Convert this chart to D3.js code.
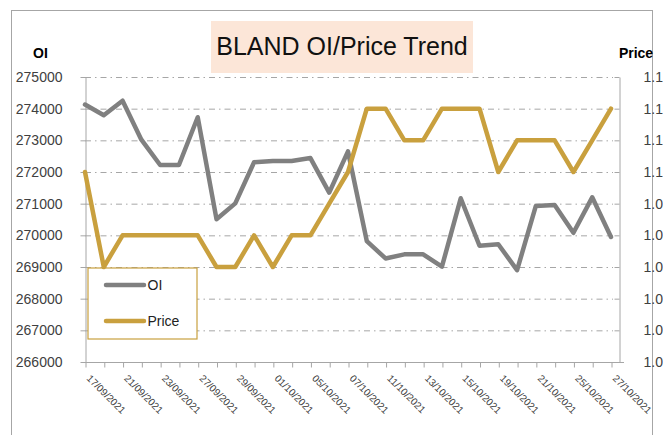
<!DOCTYPE html>
<html>
<head>
<meta charset="utf-8">
<script src="https://cdn.jsdelivr.net/npm/d3@7"></script>
<style>
  html, body { margin: 0; padding: 0; background: #fff; }
  svg { display: block; font-family: "Liberation Sans", Arial, sans-serif; }
</style>
</head>
<body>
<svg id="chart" width="663" height="435"></svg>
<script>
// trading days shown on the category axis
const dates = [
  '17/09/2021','20/09/2021','21/09/2021','22/09/2021','23/09/2021','24/09/2021',
  '27/09/2021','28/09/2021','29/09/2021','30/09/2021','01/10/2021','04/10/2021',
  '05/10/2021','06/10/2021','07/10/2021','08/10/2021','11/10/2021','12/10/2021',
  '13/10/2021','14/10/2021','15/10/2021','18/10/2021','19/10/2021','20/10/2021',
  '21/10/2021','22/10/2021','25/10/2021','26/10/2021','27/10/2021'
];
const oi = [
  274130, 273790, 274250, 273020, 272220, 272220, 273730, 270510, 271010, 272310,
  272350, 272350, 272440, 271350, 272650, 269820, 269270, 269400, 269400, 269010,
  271170, 269670, 269720, 268900, 270930, 270960, 270080, 271200, 269950
];
const price = [
  1.05, 1.02, 1.03, 1.03, 1.03, 1.03, 1.03, 1.02, 1.02, 1.03,
  1.02, 1.03, 1.03, 1.04, 1.05, 1.07, 1.07, 1.06, 1.06, 1.07,
  1.07, 1.07, 1.05, 1.06, 1.06, 1.06, 1.05, 1.06, 1.07
];
const oiTicks = [266000, 267000, 268000, 269000, 270000, 271000, 272000, 273000, 274000, 275000];
const priceTicks = [0.99, 1.00, 1.01, 1.02, 1.03, 1.04, 1.05, 1.06, 1.07, 1.08];
const priceTickLabels = ['1.0','1.0','1.0','1.0','1.0','1.0','1.1','1.1','1.1','1.1'];
const seriesNames = ['OI', 'Price'];

const svg = d3.select('#chart');
const gray = '#808080', gold = '#c9a03e', axisCol = '#a6a6a6', txt = '#404040';

const plotL = 85, plotR = 619, plotT = 77, plotB = 362;

const x = d3.scalePoint().domain(dates).range([plotL, 611]);
const yOI = d3.scaleLinear().domain([oiTicks[0], oiTicks[oiTicks.length-1]]).range([plotB, plotT]);
const yPrice = d3.scaleLinear().domain([priceTicks[0], priceTicks[priceTicks.length-1]]).range([plotB, plotT]);

// outer frame
svg.append('rect')
  .attr('x', 11.5).attr('y', 10.5).attr('width', 641).attr('height', 440)
  .attr('fill', 'none').attr('stroke', axisCol).attr('stroke-width', 1);

// title
svg.append('rect')
  .attr('x', 211).attr('y', 21).attr('width', 262).attr('height', 52)
  .attr('fill', '#fce6d8');
svg.append('text')
  .attr('x', 342).attr('y', 55).attr('text-anchor', 'middle')
  .attr('font-size', 25).attr('fill', '#111')
  .text('BLAND OI/Price Trend');

// axis titles
svg.append('text').attr('x', 40.5).attr('y', 58).attr('text-anchor', 'middle')
  .attr('font-size', 14).attr('font-weight', 'bold').attr('fill', '#000').text(seriesNames[0]);
svg.append('text').attr('x', 636).attr('y', 58).attr('text-anchor', 'middle')
  .attr('font-size', 14).attr('font-weight', 'bold').attr('fill', '#000').text(seriesNames[1]);

// gridlines (dash-dot)
svg.append('g').selectAll('line').data(oiTicks.slice(1)).join('line')
  .attr('x1', plotL).attr('x2', 613)
  .attr('y1', d => yOI(d) + 0.5).attr('y2', d => yOI(d) + 0.5)
  .attr('stroke', axisCol).attr('stroke-width', 1)
  .attr('stroke-dasharray', '6,4,1.5,4');

function styleAxis(g){
  g.selectAll('.domain, .tick line').attr('stroke', axisCol);
  g.selectAll('text').attr('fill', txt).attr('font-family', '"Liberation Sans", Arial, sans-serif');
}

// left axis
svg.append('g').attr('transform', `translate(${plotL + 0.5},0)`)
  .call(d3.axisLeft(yOI).tickValues(oiTicks).tickFormat(d3.format('d'))
    .tickSize(5).tickSizeOuter(0).tickPadding(18))
  .call(styleAxis)
  .call(g => g.selectAll('text').attr('font-size', 14));

// right axis
svg.append('g').attr('transform', `translate(${plotR + 0.5},0)`)
  .call(d3.axisRight(yPrice).tickValues(priceTicks).tickFormat((d, i) => priceTickLabels[i])
    .tickSize(-5).tickSizeOuter(0).tickPadding(24))
  .call(styleAxis)
  .call(g => g.selectAll('text').attr('font-size', 14));

// bottom axis
const xAxis = svg.append('g').attr('transform', `translate(0,${plotB + 0.5})`)
  .call(d3.axisBottom(x).tickSize(5).tickSizeOuter(0)
    .tickFormat((d, i) => i % 2 === 0 ? d : ''))
  .call(styleAxis);
xAxis.select('.domain').attr('d', `M${plotL},0H624`);
xAxis.selectAll('.tick line').attr('transform', 'translate(0.5,0)');
xAxis.selectAll('text')
  .attr('font-size', 10)
  .attr('text-anchor', 'start')
  .attr('x', 0).attr('y', 0).attr('dy', '0.35em')
  .attr('transform', 'translate(3,14) rotate(45)');

// legend
const legend = svg.append('g');
legend.append('rect')
  .attr('x', 88).attr('y', 268).attr('width', 109).attr('height', 71)
  .attr('fill', '#fff').attr('stroke', gold).attr('stroke-width', 1.2);
const legendItems = [
  { name: seriesNames[0], color: gray, y: 285 },
  { name: seriesNames[1], color: gold, y: 321 }
];
legendItems.forEach(it => {
  legend.append('line').attr('x1', 106).attr('x2', 144).attr('y1', it.y).attr('y2', it.y)
    .attr('stroke', it.color).attr('stroke-width', 4.5).attr('stroke-linecap', 'round');
  legend.append('text').attr('x', 147.5).attr('y', it.y + 4.5)
    .attr('font-size', 14).attr('fill', '#222').text(it.name);
});

// lines
const lineOI = d3.line().x((d, i) => x(dates[i])).y(d => yOI(d));
const linePrice = d3.line().x((d, i) => x(dates[i])).y(d => yPrice(d));

svg.append('path').datum(oi).attr('d', lineOI)
  .attr('fill', 'none').attr('stroke', gray).attr('stroke-width', 4.5)
  .attr('stroke-linejoin', 'round').attr('stroke-linecap', 'round');
svg.append('path').datum(price).attr('d', linePrice)
  .attr('fill', 'none').attr('stroke', gold).attr('stroke-width', 4.5)
  .attr('stroke-linejoin', 'round').attr('stroke-linecap', 'round');
</script>
</body>
</html>
